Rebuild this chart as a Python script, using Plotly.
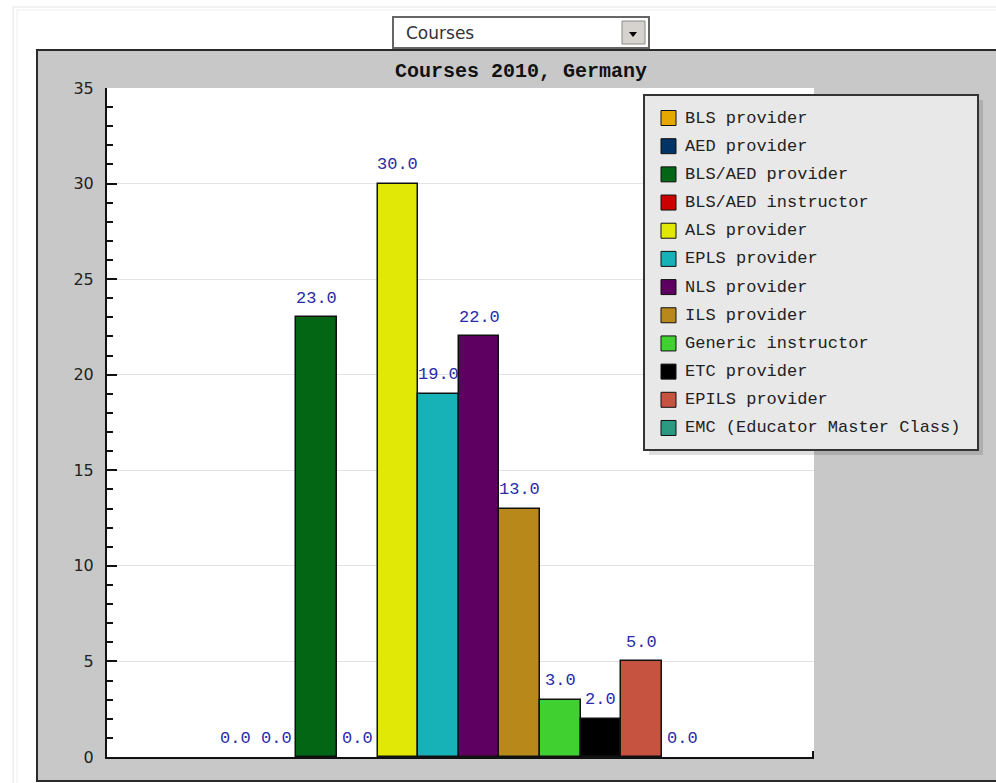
import plotly.graph_objects as go

# ---- data -------------------------------------------------------------
course_names = [
    "BLS provider", "AED provider", "BLS/AED provider", "BLS/AED instructor",
    "ALS provider", "EPLS provider", "NLS provider", "ILS provider",
    "Generic instructor", "ETC provider", "EPILS provider",
    "EMC (Educator Master Class)",
]
course_counts = [0, 0, 23, 0, 30, 19, 22, 13, 3, 2, 5, 0]
course_colors = [
    "#e6a800", "#003366", "#026614", "#cc0000", "#e1e806", "#17b1b8",
    "#5e0061", "#b8891a", "#40d030", "#000000", "#c65340", "#2a9a80",
]
y_ticks = [0, 5, 10, 15, 20, 25, 30, 35]
chart_title = "Courses 2010, Germany"
selector_label = "Courses"

# ---- page geometry (pixels) -------------------------------------------
W, H = 996, 783
L, R, T, B = 107, 814, 88, 757


def px(x):
    return (x - L) / (R - L)


def py(y):
    return (B - y) / (B - T)


def rect(x0, y0, x1, y1, fill, line_color=None, line_width=0, layer="below"):
    return dict(
        type="rect", xref="paper", yref="paper",
        x0=px(x0), x1=px(x1), y0=py(y1), y1=py(y0),
        fillcolor=fill, layer=layer,
        line=dict(color=line_color or fill, width=line_width),
    )


positions = list(range(len(course_names)))
# empty bars get no outline so nothing is drawn on the baseline
outline_widths = [1.5 if v > 0 else 0 for v in course_counts]

fig = go.Figure()
fig.add_trace(go.Bar(
    x=positions,
    y=course_counts,
    width=1.0,
    marker=dict(color=course_colors,
                line=dict(color="#111111", width=outline_widths)),
    hovertext=course_names,
    showlegend=False,
))

shapes = []
# outer page frame
shapes.append(dict(type="rect", xref="paper", yref="paper",
                   x0=px(13), y0=py(800), x1=px(1020), y1=py(7),
                   line=dict(color="#e4e4e4", width=1), layer="below"))
shapes.append(dict(type="rect", xref="paper", yref="paper",
                   x0=px(17), y0=py(800), x1=px(1020), y1=py(10),
                   line=dict(color="#eeeeee", width=1), layer="below"))
# grey chart panel
shapes.append(rect(37, 50, 1010, 781, "#c8c8c8", "#2a2a2a", 2))
# white plotting area
shapes.append(rect(L, T, R, B, "#ffffff"))
# selector box
shapes.append(rect(393, 17, 649, 48, "#ffffff", "#666666", 2))
shapes.append(rect(622, 21, 645, 44, "#d6d3ce", "#8a8a8a", 1))
shapes.append(dict(type="path", xref="paper", yref="paper",
                   path=f"M {px(629)},{py(32)} L {px(637)},{py(32)} L {px(633)},{py(37)} Z",
                   fillcolor="#000000", line=dict(width=0), layer="above"))
# small closing tick at right end of the x axis
shapes.append(dict(type="line", xref="paper", yref="paper",
                   x0=px(813), x1=px(813), y0=py(757), y1=py(751),
                   line=dict(color="#111111", width=2), layer="above"))
# legend box with drop shadow
shapes.append(rect(649, 100, 983, 455, "rgba(0,0,0,0.13)", layer="above"))
shapes.append(rect(644, 95, 978, 450, "#e8e8e8", "#333333", 2, layer="above"))

annotations = []
row0, row_step = 118, 28.18
for i, (name, color) in enumerate(zip(course_names, course_colors)):
    cy = row0 + row_step * i
    shapes.append(rect(661, cy - 7.5, 676, cy + 7.5, color, "#111111", 1, layer="above"))
    annotations.append(dict(
        xref="paper", yref="paper", x=px(683), y=py(cy),
        xanchor="left", yanchor="middle", showarrow=False, text=name,
        font=dict(family="Liberation Mono", size=17, color="#222222"),
    ))

# value labels above each bar
for pos, val in zip(positions, course_counts):
    annotations.append(dict(
        xref="x", yref="y", x=pos, y=val, yshift=19,
        xanchor="center", yanchor="middle", showarrow=False,
        text=f"{val:.1f}",
        font=dict(family="Liberation Mono", size=17, color="#2a2aa8"),
    ))

# selector text
annotations.append(dict(
    xref="paper", yref="paper", x=px(404), y=py(33),
    xanchor="left", yanchor="middle", showarrow=False, text=selector_label,
    font=dict(family="DejaVu Sans", size=17, color="#333333"),
))

fig.update_layout(
    width=W, height=H, autosize=False,
    margin=dict(l=L, r=W - R, t=T, b=H - B, pad=0),
    paper_bgcolor="#ffffff",
    plot_bgcolor="rgba(0,0,0,0)",
    title=dict(
        text=f"<b>{chart_title}</b>",
        x=521 / W, xref="container", xanchor="center",
        y=1 - 70 / H, yref="container", yanchor="middle",
        font=dict(family="Liberation Mono", size=20, color="#111111"),
    ),
    shapes=shapes,
    annotations=annotations,
    bargap=0,
    showlegend=False,
)

fig.update_xaxes(
    range=[-3.165, 14.25], showticklabels=False, ticks="",
    showgrid=False, zeroline=False,
    showline=True, linecolor="#111111", linewidth=2,
)
fig.update_yaxes(
    range=[0, 35], tickmode="array", tickvals=y_ticks,
    ticks="inside", ticklen=10, tickwidth=2, tickcolor="#111111",
    showline=True, linecolor="#111111", linewidth=2,
    showgrid=True, gridcolor="#e2e2e2", gridwidth=1, zeroline=False,
    ticklabelstandoff=8,
    tickfont=dict(family="DejaVu Sans", size=16, color="#222222"),
    minor=dict(dtick=1, ticks="inside", ticklen=6, tickwidth=2,
               tickcolor="#111111", showgrid=False),
)

fig.write_html("out.html")
